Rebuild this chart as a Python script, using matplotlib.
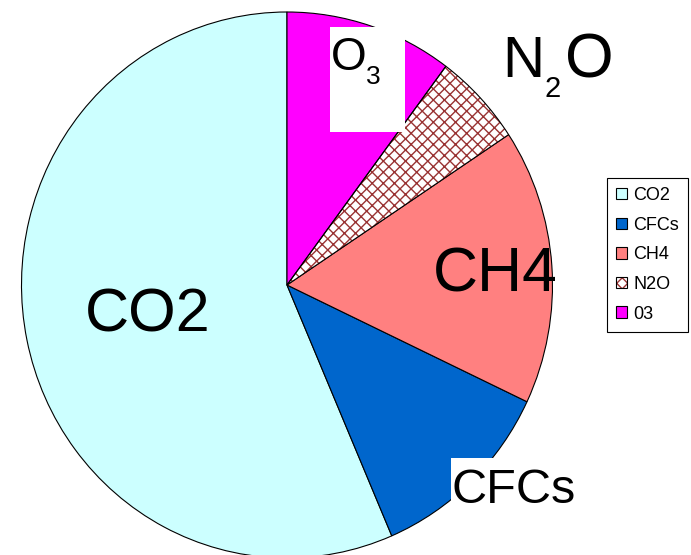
import matplotlib
matplotlib.use('Agg')
import matplotlib.pyplot as plt
from matplotlib.patches import Patch, Rectangle, Wedge
from matplotlib.legend_handler import HandlerTuple

plt.rcParams['font.family'] = ['Liberation Sans', 'DejaVu Sans']
plt.rcParams['hatch.linewidth'] = 1.0

categories = ['CO2', 'CFCs', 'CH4', 'N2O', 'O3']
legend_labels = ['CO2', 'CFCs', 'CH4', 'N2O', '03']
shares = [56.4, 11.5, 16.3, 5.5, 10.2]
colors = ['#CCFFFF', '#0066CC', '#FF8080', '#FFFFFF', '#FF00FF']
hatch_color = '#993333'

W, H = 691, 555
fig = plt.figure(figsize=(W / 100, H / 100), dpi=100)
ax = fig.add_axes([0, 0, 1, 1])

# pie geometry (pixels): centre and radii
cx, cy, rx, ry = 287, 285, 265.5, 273


def px(x, y):
    return ((x - cx) / rx, (cy - y) / ry)


wedges = ax.pie(shares, colors=colors, startangle=90, counterclock=True,
                wedgeprops=dict(edgecolor='black', linewidth=0.8))[0]
ax.set_aspect('auto')
ax.set_xlim(-cx / rx, (W - cx) / rx)
ax.set_ylim(-(H - cy) / ry, cy / ry)
ax.axis('off')

# hatched N2O wedge: brown hatch, black outline
w = wedges[3]
w.set_hatch('xxx')
w.set_edgecolor(hatch_color)
w.set_linewidth(0)
ax.add_patch(Wedge((0, 0), 1, w.theta1, w.theta2, facecolor='none',
                   edgecolor='black', linewidth=0.8))

# white label boxes
ax.add_patch(Rectangle(px(330, 132), 75 / rx, 105 / ry, facecolor='white',
                       edgecolor='none', zorder=3))
ax.add_patch(Rectangle(px(451, 512), 125 / rx, 54 / ry, facecolor='white',
                       edgecolor='none', zorder=3))

ax.text(*px(85, 332), 'CO2', fontsize=44, ha='left', va='baseline', zorder=4)
ax.text(*px(433, 292), 'CH4', fontsize=45, ha='left', va='baseline', zorder=4)
ax.text(*px(452, 503), 'CFCs', fontsize=35, ha='left', va='baseline', zorder=4)
ax.text(*px(502, 77), 'N', fontsize=42, ha='left', va='baseline', zorder=4)
ax.text(*px(544, 97), '2', fontsize=21, ha='left', va='baseline', zorder=4)
ax.text(*px(565, 77), 'O', fontsize=45, ha='left', va='baseline', zorder=4)
ax.text(*px(331, 70), 'O', fontsize=33, ha='left', va='baseline', zorder=4)
ax.text(*px(366, 84), '3', fontsize=19, ha='left', va='baseline', zorder=4)

handles = []
for lab, c in zip(categories, colors):
    if lab == 'N2O':
        handles.append((Patch(facecolor='white', edgecolor=hatch_color, hatch='xxx', linewidth=0),
                        Patch(facecolor='none', edgecolor='black', linewidth=0.8)))
    else:
        handles.append(Patch(facecolor=c, edgecolor='black', linewidth=0.8))

leg = fig.legend(handles, legend_labels, loc='upper left',
                 bbox_to_anchor=(607 / W, 1 - 178 / H), bbox_transform=fig.transFigure,
                 borderaxespad=0, fontsize=13, handlelength=0.6, handleheight=0.6,
                 handletextpad=0.35, labelspacing=0.7, borderpad=0.5,
                 frameon=True, fancybox=False, edgecolor='black', framealpha=1,
                 handler_map={tuple: HandlerTuple(ndivide=1, pad=0)})
leg.get_frame().set_linewidth(0.8)

fig.savefig('out.png', dpi=100)
